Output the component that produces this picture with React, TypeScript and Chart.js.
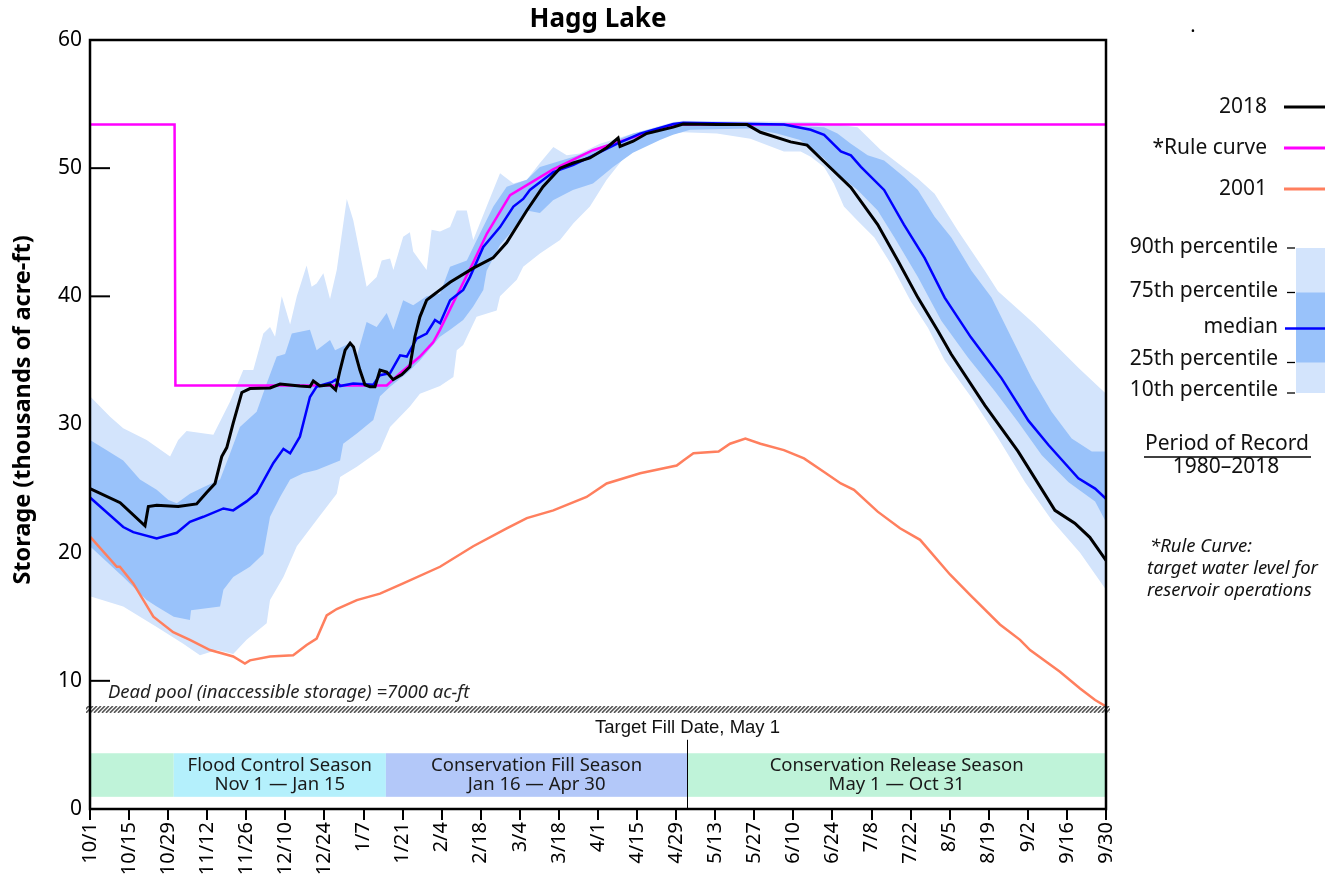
import React, { useEffect, useRef } from "react";
import { Chart, registerables } from "chart.js";

Chart.register(...registerables);

// ---------- Data (x = days since Oct 1, y = storage in thousands of acre-ft) ----------
const tickLabels = [
  "10/1", "10/15", "10/29", "11/12", "11/26", "12/10", "12/24", "1/7", "1/21", "2/4",
  "2/18", "3/4", "3/18", "4/1", "4/15", "4/29", "5/13", "5/27", "6/10", "6/24",
  "7/8", "7/22", "8/5", "8/19", "9/2", "9/16", "9/30",
];
const tickStepDays = 14;
const yTickValues = [0, 10, 20, 30, 40, 50, 60];

const series2018: [number, number][] = [
  [0, 25.0], [10.8, 23.9], [19.7, 22.1], [20.9, 23.6], [23.9, 23.7], [31.6, 23.6], [38.2, 23.8],
  [41.8, 24.7], [44.8, 25.4], [47.2, 27.5], [49.0, 28.2], [51.3, 30.1], [54.4, 32.5], [57.3, 32.8],
  [64.5, 32.85], [68.1, 33.15], [75.2, 33.0], [78.8, 32.95], [80.0, 33.4], [81.2, 33.2], [82.4, 33.0],
  [86.0, 33.1], [88.0, 32.7], [89.6, 34.25], [91.4, 35.8], [93.2, 36.35], [94.4, 36.05], [96.7, 34.25],
  [98.5, 33.1], [100.3, 32.95], [102.1, 32.95], [103.9, 34.25], [106.3, 34.1], [108.6, 33.5],
  [111.7, 33.9], [114.6, 34.5], [116.4, 36.85], [118.2, 38.4], [120.6, 39.7], [123.0, 40.1],
  [125.4, 40.5], [129.0, 41.1], [137.3, 42.2], [144.4, 43.0], [149.3, 44.2], [156.5, 46.7],
  [162.3, 48.55], [168.4, 50.0], [173.1, 50.4], [179.1, 50.8], [185.1, 51.6], [189.2, 52.35],
  [189.9, 51.7], [194.6, 52.1], [199.4, 52.7], [208.9, 53.2], [212.5, 53.45], [224.7, 53.4],
  [235.4, 53.4], [240.2, 52.8], [251.0, 52.05], [256.9, 51.8], [263.0, 50.5], [272.6, 48.5],
  [282.2, 45.6], [289.4, 42.8], [296.6, 39.9], [303.8, 37.3], [308.5, 35.5], [320.6, 31.5],
  [332.5, 27.9], [345.7, 23.3], [352.8, 22.3], [358.2, 21.2], [364, 19.4],
];

const seriesMedian: [number, number][] = [
  [0, 24.3], [11.9, 22.0], [15.5, 21.6], [23.9, 21.1], [31.1, 21.55], [35.8, 22.4], [40.6, 22.8],
  [47.8, 23.45], [51.3, 23.3], [56.1, 24.0], [59.7, 24.65], [65.7, 27.0], [69.3, 28.1], [71.7, 27.75],
  [75.2, 29.05], [78.8, 32.15], [81.2, 32.95], [86.6, 33.3], [88.0, 33.5], [89.6, 33.0], [94.3, 33.2],
  [101.5, 33.1], [103.9, 33.85], [107.5, 34.0], [111.1, 35.4], [113.5, 35.3], [117.0, 36.7],
  [120.6, 37.1], [123.6, 38.15], [125.4, 37.9], [129.0, 39.7], [133.7, 40.5], [136.1, 41.5],
  [140.9, 43.85], [146.9, 45.4], [151.7, 47.0], [155.2, 47.6], [157.6, 48.3], [161.2, 48.9],
  [166.0, 49.7], [173.2, 50.25], [180.3, 51.0], [188.7, 51.9], [197.1, 52.7], [209.0, 53.45],
  [212.6, 53.55], [248.6, 53.4], [258.2, 53.0], [263.0, 52.6], [269.0, 51.3], [272.6, 51.0],
  [276.2, 50.1], [284.5, 48.3], [291.6, 45.6], [299.0, 43.0], [306.2, 39.9], [315.6, 36.8],
  [326.6, 33.6], [336.2, 30.3], [343.4, 28.4], [354.1, 25.8], [360.1, 25.0], [364, 24.2],
];

const seriesRule: [number, number][] = [
  [0, 53.4], [30.3, 53.4], [30.6, 33.05], [106.3, 33.05], [111.1, 34.0], [118.2, 35.3],
  [122.9, 36.4], [125.4, 37.4], [129.0, 39.0], [137.2, 42.6], [142.2, 44.9], [150.5, 47.9],
  [165.9, 49.9], [180.2, 51.4], [194.5, 52.4], [208.9, 53.4], [364, 53.4],
];

const series2001: [number, number][] = [
  [0, 21.25], [9.6, 18.9], [10.7, 18.9], [15.5, 17.6], [22.7, 15.0], [29.8, 13.8], [35.8, 13.2],
  [43.0, 12.4], [51.3, 11.9], [55.5, 11.35], [57.3, 11.6], [64.5, 11.9], [72.8, 12.0], [77.6, 12.8],
  [81.2, 13.3], [84.8, 15.1], [88.4, 15.6], [95.6, 16.3], [103.9, 16.8], [112.2, 17.6], [125.4, 18.9],
  [137.3, 20.5], [149.3, 21.9], [156.5, 22.7], [166.0, 23.3], [177.9, 24.35], [185.1, 25.4],
  [197.1, 26.2], [210.2, 26.8], [212.6, 27.2], [216.2, 27.75], [225.2, 27.9], [229.3, 28.5],
  [234.8, 28.9], [240.2, 28.5], [248.6, 28.0], [255.8, 27.35], [263.0, 26.3], [269.0, 25.4],
  [273.7, 24.9], [282.2, 23.2], [290.2, 21.9], [297.4, 21.0], [308.1, 18.3], [315.3, 16.7],
  [326.0, 14.4], [333.2, 13.2], [336.8, 12.4], [347.5, 10.7], [354.7, 9.4], [360.1, 8.5], [364, 8.0],
];

const seriesP90: [number, number][] = [
  [0, 32.2], [7.2, 30.6], [11.9, 29.7], [20.3, 28.8], [28.7, 27.5], [31.6, 28.8], [34.6, 29.5],
  [44.2, 29.2], [50.2, 31.8], [54.9, 34.25], [58.5, 34.25], [62.1, 37.1], [64.5, 37.6], [66.3, 36.85],
  [68.7, 40.0], [71.7, 37.8], [74.1, 40.0], [77.6, 42.4], [79.4, 40.75], [81.2, 41.0], [83.6, 41.8],
  [86.0, 39.8], [88.4, 42.05], [92.0, 47.6], [94.3, 45.95], [99.1, 40.75], [102.7, 41.5],
  [104.5, 42.8], [107.5, 42.95], [108.7, 42.05], [112.2, 44.65], [114.6, 45.0], [115.8, 43.5],
  [120.6, 42.05], [122.4, 45.2], [125.4, 45.05], [129.0, 45.4], [131.4, 46.7], [135.0, 46.7],
  [137.3, 44.4], [142.1, 47.0], [146.9, 49.6], [151.7, 48.8], [156.5, 49.1], [161.2, 50.4],
  [166.0, 51.65], [170.8, 51.0], [175.5, 51.15], [182.7, 51.9], [194.6, 52.7], [209.0, 53.6],
  [212.5, 53.7], [260.5, 53.6], [275.0, 53.2], [283.4, 51.4], [296.6, 49.2], [302.6, 48.0],
  [311.0, 45.1], [320.6, 42.0], [325.3, 40.4], [338.6, 37.8], [354.2, 34.4], [364, 32.4],
];

const seriesP75: [number, number][] = [
  [0, 28.8], [6.0, 28.0], [11.9, 27.2], [17.9, 25.7], [23.9, 24.9], [28.1, 24.1], [31.1, 23.85],
  [35.8, 24.6], [40.6, 25.1], [46.6, 25.7], [50.2, 27.75], [53.7, 29.8], [59.7, 31.0], [63.3, 33.2],
  [66.9, 35.3], [69.9, 35.5], [72.3, 37.1], [78.8, 37.4], [81.2, 35.8], [86.0, 36.6], [87.8, 35.8],
  [93.2, 36.35], [95.6, 35.3], [99.1, 38.0], [102.7, 37.6], [106.3, 38.7], [108.7, 37.4],
  [112.2, 39.7], [115.8, 39.3], [120.6, 40.0], [125.4, 40.2], [129.0, 42.3], [135.0, 42.8],
  [139.7, 44.9], [144.5, 47.0], [149.3, 48.55], [156.5, 49.1], [161.2, 50.1], [173.3, 50.9],
  [182.7, 51.65], [194.6, 52.7], [209.0, 53.5], [212.5, 53.6], [251.0, 53.3], [263.0, 53.2],
  [267.8, 52.7], [272.6, 51.9], [278.6, 51.0], [284.5, 50.6], [291.8, 49.3], [296.6, 48.3],
  [302.6, 46.2], [308.6, 44.6], [315.8, 42.0], [323.0, 39.9], [330.2, 36.75], [337.4, 33.6],
  [344.5, 31.0], [351.7, 28.9], [358.9, 27.9], [364, 27.9],
];

const seriesP25: [number, number][] = [
  [0, 20.5], [11.9, 18.1], [20.3, 16.3], [23.9, 15.8], [30.0, 15.0], [35.8, 14.75], [36.2, 15.5],
  [46.6, 15.8], [47.8, 17.1], [51.3, 18.1], [57.3, 18.9], [62.1, 19.9], [64.5, 22.8], [68.1, 24.35],
  [71.7, 25.7], [76.4, 26.2], [81.2, 26.45], [89.6, 27.2], [90.7, 28.5], [95.6, 29.3], [101.5, 30.35],
  [103.9, 32.2], [107.5, 32.95], [113.5, 34.0], [118.2, 35.0], [125.4, 36.85], [129.0, 37.4],
  [133.7, 38.15], [137.3, 39.2], [140.9, 40.5], [142.1, 42.0], [146.9, 44.0], [150.5, 44.9],
  [156.5, 46.7], [161.2, 46.5], [165.9, 47.5], [173.0, 48.3], [180.2, 48.8], [187.4, 50.1],
  [194.5, 51.2], [204.2, 52.2], [208.9, 52.6], [215.0, 53.0], [236.5, 53.1], [246.1, 52.7],
  [254.4, 52.2], [263.0, 50.75], [267.8, 49.55], [275.0, 48.3], [282.2, 46.7], [288.2, 44.6],
  [296.6, 41.5], [305.0, 38.1], [314.6, 35.2], [324.2, 32.6], [332.5, 30.2], [341.0, 27.6],
  [350.6, 25.5], [360.1, 24.0], [364, 22.4],
];

const seriesP10: [number, number][] = [
  [0, 16.6], [11.9, 15.8], [23.9, 14.2], [33.4, 12.9], [39.4, 12.0], [45.4, 12.4], [51.3, 12.1],
  [56.1, 13.2], [63.3, 14.5], [64.5, 16.3], [69.3, 18.1], [74.1, 20.5], [81.2, 22.55], [88.4, 24.6],
  [89.6, 25.9], [95.6, 26.7], [103.9, 28.0], [107.5, 29.8], [114.6, 31.4], [118.2, 32.4],
  [125.4, 33.0], [130.2, 33.7], [131.4, 35.8], [133.7, 36.2], [138.5, 38.4], [145.7, 38.9],
  [146.9, 40.0], [152.9, 41.3], [155.2, 42.3], [161.2, 43.35], [168.4, 44.4], [173.2, 45.7],
  [179.1, 47.0], [185.1, 49.1], [191.1, 50.75], [197.1, 51.9], [206.6, 52.6], [212.6, 52.8],
  [224.6, 52.7], [236.6, 52.3], [248.6, 51.3], [254.6, 51.3], [258.2, 50.9], [263.0, 50.1],
  [266.5, 48.8], [270.1, 47.0], [275.0, 45.9], [281.0, 44.6], [287.0, 42.5], [294.1, 39.6],
  [300.2, 37.55], [306.2, 35.0], [315.8, 32.1], [325.3, 28.95], [335.0, 25.5], [344.7, 22.5],
  [354.7, 20.0], [364, 17.1],
];

// Season annotation bands
const seasonBoundsDays = [0, 30, 106, 214, 364];
const seasonColors = ["#bff3d9", "#b4f0fc", "#b3c8f9", "#bff3d9"];
const seasonNames = ["", "Flood Control Season", "Conservation Fill Season", "Conservation Release Season"];
const seasonDates = ["", "Nov 1 \u2014 Jan 15", "Jan 16 \u2014 Apr 30", "May 1 \u2014 Oct 31"];
const seasonBandRange = [0.95, 4.35];
const deadPoolRange = [7.5, 8.04];
const targetFillDay = 214;

// ---------- Styles ----------
const FONT = '"Noto Sans", "Open Sans", sans-serif';
const C_LIGHT = "#d3e4fc";
const C_DARK = "#99c2fa";
const C_MEDIAN = "#0000ff";
const C_2018 = "#000000";
const C_RULE = "#ff00ff";
const C_2001 = "#ff7f5e";

const toXY = (pts: [number, number][]) => pts.map(([x, y]) => ({ x, y }));

const overlayPlugin = {
  id: "overlay",
  beforeDatasetsDraw(chart: any) {
    const { ctx, chartArea: a, scales } = chart;
    const xs = scales.x;
    const ys = scales.y;
    ctx.save();
    const yTop = ys.getPixelForValue(seasonBandRange[1]);
    const yBot = ys.getPixelForValue(seasonBandRange[0]);
    for (let i = 0; i < seasonColors.length; i++) {
      const x0 = xs.getPixelForValue(seasonBoundsDays[i]);
      const x1 = xs.getPixelForValue(seasonBoundsDays[i + 1]);
      ctx.fillStyle = seasonColors[i];
      ctx.fillRect(x0, yTop, x1 - x0, yBot - yTop);
    }
    ctx.strokeStyle = "#000";
    ctx.lineWidth = 2;
    for (const v of yTickValues) {
      const py = ys.getPixelForValue(v);
      ctx.beginPath();
      ctx.moveTo(a.left, py);
      ctx.lineTo(a.left + 20, py);
      ctx.stroke();
    }
    ctx.restore();
  },
  afterDatasetsDraw(chart: any) {
    const { ctx, chartArea: a, scales } = chart;
    const xs = scales.x;
    const ys = scales.y;
    ctx.save();
    // dead pool hatch
    const hy0 = ys.getPixelForValue(deadPoolRange[1]);
    const hy1 = ys.getPixelForValue(deadPoolRange[0]);
    ctx.beginPath();
    ctx.rect(a.left - 4, hy0, a.right - a.left + 8, hy1 - hy0);
    ctx.fillStyle = "#ffffff";
    ctx.fill();
    ctx.clip();
    ctx.strokeStyle = "#555";
    ctx.lineWidth = 1.6;
    ctx.beginPath();
    const h = hy1 - hy0;
    for (let xx = a.left - 20; xx < a.right + 20; xx += 4) {
      ctx.moveTo(xx, hy1);
      ctx.lineTo(xx + h, hy0);
    }
    ctx.stroke();
    ctx.restore();

    ctx.save();
    ctx.fillStyle = "#222";
    ctx.font = `italic 18.5px ${FONT}`;
    ctx.textAlign = "left";
    ctx.textBaseline = "middle";
    ctx.fillText("Dead pool (inaccessible storage) =7000 ac-ft", a.left + 18, hy0 - 13);

    // season labels
    const yTop = ys.getPixelForValue(seasonBandRange[1]);
    const yBot = ys.getPixelForValue(seasonBandRange[0]);
    const yMid = (yTop + yBot) / 2;
    ctx.font = `18.5px ${FONT}`;
    ctx.textAlign = "center";
    ctx.fillStyle = "#1a1a1a";
    for (let i = 0; i < seasonNames.length; i++) {
      if (!seasonNames[i]) continue;
      const cx = (xs.getPixelForValue(seasonBoundsDays[i]) + xs.getPixelForValue(seasonBoundsDays[i + 1])) / 2;
      ctx.fillText(seasonNames[i], cx, yMid - 9.5);
      ctx.fillText(seasonDates[i], cx, yMid + 10);
    }

    // target fill line
    const tx = Math.round(xs.getPixelForValue(targetFillDay)) + 0.5;
    ctx.strokeStyle = "#000";
    ctx.lineWidth = 1;
    ctx.beginPath();
    ctx.moveTo(tx, ys.getPixelForValue(5.4));
    ctx.lineTo(tx, a.bottom);
    ctx.stroke();
    ctx.font = `18.5px "Liberation Sans", Arial, sans-serif`;
    ctx.fillStyle = "#111";
    ctx.fillText("Target Fill Date, May 1", tx, ys.getPixelForValue(6.3));

    // frame
    ctx.strokeStyle = "#000";
    ctx.lineWidth = 2.5;
    ctx.strokeRect(a.left, a.top, a.right - a.left, a.bottom - a.top);
    ctx.restore();
  },
  afterDraw(chart: any) {
    const { ctx, chartArea: a } = chart;
    ctx.save();
    ctx.fillStyle = "#000";
    // title
    ctx.font = `bold 26px ${FONT}`;
    ctx.textAlign = "center";
    ctx.textBaseline = "middle";
    ctx.fillText("Hagg Lake", (a.left + a.right) / 2, 20);
    ctx.font = `20px ${FONT}`;
    ctx.fillText(".", 1193, 26);

    // y title
    ctx.save();
    ctx.translate(23, 410);
    ctx.rotate(-Math.PI / 2);
    ctx.font = `bold 23.5px ${FONT}`;
    ctx.fillText("Storage (thousands of acre-ft)", 0, 0);
    ctx.restore();

    // legend
    const tx = 1267;
    const l0 = 1284;
    const l1 = 1325;
    ctx.font = `21px ${FONT}`;
    ctx.textAlign = "right";
    const lines: [string, string, number, number][] = [
      ["2018", C_2018, 107, 3],
      ["*Rule curve", C_RULE, 148, 3],
      ["2001", C_2001, 189, 3],
    ];
    for (const [label, color, yy, lw] of lines) {
      ctx.fillStyle = "#111";
      ctx.fillText(label, tx, yy);
      ctx.strokeStyle = color;
      ctx.lineWidth = lw;
      ctx.beginPath();
      ctx.moveTo(l0, yy);
      ctx.lineTo(l1, yy);
      ctx.stroke();
    }
    // percentile swatch
    ctx.fillStyle = C_LIGHT;
    ctx.fillRect(1296, 248, 29, 145);
    ctx.fillStyle = C_DARK;
    ctx.fillRect(1296, 292.5, 29, 70);
    const pl: [string, number, number][] = [
      ["90th percentile", 247, 248],
      ["75th percentile", 291, 292.5],
      ["25th percentile", 359, 362.5],
      ["10th percentile", 390, 393],
    ];
    for (const [label, ty, my] of pl) {
      ctx.fillStyle = "#111";
      ctx.fillText(label, 1278, ty);
      ctx.strokeStyle = "#000";
      ctx.lineWidth = 1.3;
      ctx.beginPath();
      ctx.moveTo(1287, my);
      ctx.lineTo(1295, my);
      ctx.stroke();
    }
    ctx.fillStyle = "#111";
    ctx.fillText("median", 1278, 327);
    ctx.strokeStyle = C_MEDIAN;
    ctx.lineWidth = 2.5;
    ctx.beginPath();
    ctx.moveTo(1285, 328.5);
    ctx.lineTo(1325, 328.5);
    ctx.stroke();

    // period of record
    ctx.textAlign = "center";
    ctx.font = `21px ${FONT}`;
    ctx.fillText("Period of Record", 1227, 444);
    ctx.strokeStyle = "#000";
    ctx.lineWidth = 1.5;
    ctx.beginPath();
    ctx.moveTo(1144, 457);
    ctx.lineTo(1311, 457);
    ctx.stroke();
    ctx.fillText("1980\u20132018", 1226, 467);

    ctx.textAlign = "left";
    ctx.font = `italic 18.5px ${FONT}`;
    ctx.fillText("*Rule Curve:", 1150, 547);
    ctx.fillText("target water level for", 1147, 569);
    ctx.fillText("reservoir operations", 1147, 591);
    ctx.restore();
  },
};

export default function App() {
  const ref = useRef<HTMLCanvasElement | null>(null);
  useEffect(() => {
    if (!ref.current) return;
    const line = (data: [number, number][], color: string, width: number, extra: any = {}) => ({
      data: toXY(data),
      borderColor: color,
      borderWidth: width,
      pointRadius: 0,
      tension: 0,
      fill: false,
      ...extra,
    });
    const chart = new Chart(ref.current, {
      type: "line",
      data: {
        datasets: [
          line(series2018, C_2018, 3),
          line(seriesMedian, C_MEDIAN, 2.5),
          line(seriesRule, C_RULE, 2.5),
          line(series2001, C_2001, 2.5),
          line(seriesP75, "rgba(0,0,0,0)", 0, { fill: "+1", backgroundColor: C_DARK }),
          line(seriesP25, "rgba(0,0,0,0)", 0),
          line(seriesP90, "rgba(0,0,0,0)", 0, { fill: "+1", backgroundColor: C_LIGHT }),
          line(seriesP10, "rgba(0,0,0,0)", 0),
        ],
      },
      options: {
        animation: false,
        responsive: false,
        events: [],
        layout: { padding: { left: 0, right: 234, top: 40, bottom: 0 } },
        plugins: { legend: { display: false }, tooltip: { enabled: false }, title: { display: false } },
        scales: {
          x: {
            type: "linear",
            min: 0,
            max: 364,
            afterBuildTicks: (s: any) => {
              s.ticks = tickLabels.map((_, i) => ({ value: i * tickStepDays }));
            },
            afterFit: (s: any) => {
              s.height = 73;
            },
            ticks: {
              autoSkip: false,
              maxRotation: 90,
              minRotation: 90,
              padding: 2,
              color: "#000",
              font: { family: FONT, size: 20 },
              callback: (v: any) => tickLabels[Math.round(Number(v) / tickStepDays)] ?? "",
            },
            grid: { drawOnChartArea: false, drawTicks: true, tickLength: 11, color: "#000", lineWidth: 2 },
            border: { display: false },
          },
          y: {
            type: "linear",
            min: 0,
            max: 60,
            afterBuildTicks: (s: any) => {
              s.ticks = yTickValues.map((v) => ({ value: v }));
            },
            afterFit: (s: any) => {
              s.width = 90;
            },
            ticks: {
              padding: 8,
              color: "#000",
              font: { family: FONT, size: 21 },
            },
            grid: { display: false, drawTicks: false },
            border: { display: false },
          },
        },
      },
      plugins: [overlayPlugin],
    });
    return () => chart.destroy();
  }, []);
  return (
    <div style={{ position: "absolute", left: 0, top: 0, width: 1340, height: 882, background: "#fff" }}>
      <canvas ref={ref} width={1340} height={882} style={{ display: "block" }} />
    </div>
  );
}
